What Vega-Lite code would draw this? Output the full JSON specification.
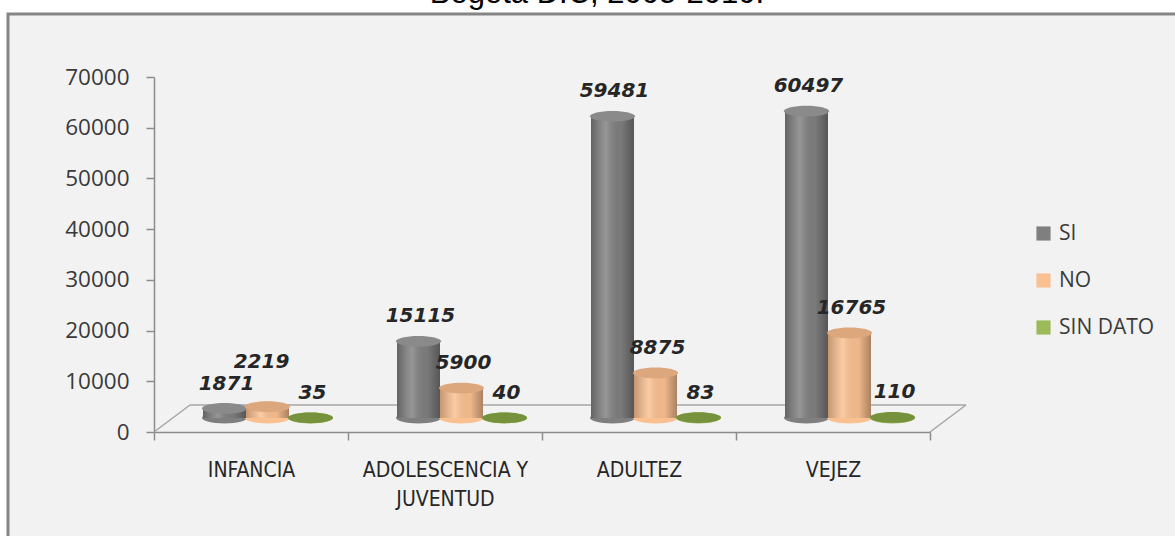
{
  "$schema": "https://vega.github.io/schema/vega-lite/v6.json",
  "width": 1170,
  "height": 525,
  "autosize": {"type": "none"},
  "padding": {"left": 8, "top": 14, "right": -3, "bottom": -3},
  "background": "white",
  "config": {"view": {"stroke": "#858585", "strokeWidth": 3, "fill": "#f2f2f2"}},
  "title": {"text": "Bogotá  D.C, 2005-2010.", "font": "Liberation Sans", "fontSize": 31, "fontWeight": "normal", "color": "#000000", "anchor": "middle", "baseline": "alphabetic", "offset": -20, "dx": 4},
  "data": {"values": [
    {"grupo": "INFANCIA", "serie": "SI", "valor": 1871},
    {"grupo": "INFANCIA", "serie": "NO", "valor": 2219},
    {"grupo": "INFANCIA", "serie": "SIN DATO", "valor": 35},
    {"grupo": "ADOLESCENCIA Y JUVENTUD", "serie": "SI", "valor": 15115},
    {"grupo": "ADOLESCENCIA Y JUVENTUD", "serie": "NO", "valor": 5900},
    {"grupo": "ADOLESCENCIA Y JUVENTUD", "serie": "SIN DATO", "valor": 40},
    {"grupo": "ADULTEZ", "serie": "SI", "valor": 59481},
    {"grupo": "ADULTEZ", "serie": "NO", "valor": 8875},
    {"grupo": "ADULTEZ", "serie": "SIN DATO", "valor": 83},
    {"grupo": "VEJEZ", "serie": "SI", "valor": 60497},
    {"grupo": "VEJEZ", "serie": "NO", "valor": 16765},
    {"grupo": "VEJEZ", "serie": "SIN DATO", "valor": 110}
  ]},
  "layer": [
    {
      "data": {"values": [{}]},
      "mark": {"type": "rule", "color": "#a6a6a6", "strokeWidth": 1.5, "xOffset": 36, "x2Offset": 36, "yOffset": -27, "y2Offset": -27},
      "encoding": {
        "x": {"datum": "INFANCIA", "type": "nominal", "bandPosition": 0,
          "scale": {"domain": ["INFANCIA", "ADOLESCENCIA Y JUVENTUD", "ADULTEZ", "VEJEZ"], "range": [146, 922], "paddingInner": 0, "paddingOuter": 0},
          "axis": {"orient": "bottom", "offset": -107, "title": null, "domainColor": "#8c8c8c", "domainWidth": 1.5, "tickColor": "#8c8c8c", "tickWidth": 1.5, "tickSize": 8, "tickBand": "extent", "labelFont": "'DejaVu Sans Condensed', 'Liberation Sans Narrow', Roboto, sans-serif", "labelFontSize": 21, "labelColor": "#262626", "labelPadding": 19, "labelLineHeight": 29, "labelAngle": 0, "labelBaseline": "top", "labelLimit": 0, "labelExpr": "datum.value == 'ADOLESCENCIA Y JUVENTUD' ? ['ADOLESCENCIA Y', 'JUVENTUD'] : datum.value"}},
        "x2": {"datum": "VEJEZ", "bandPosition": 1},
        "y": {"datum": 0, "type": "quantitative",
          "scale": {"domain": [0, 70000], "range": [418, 63], "nice": false, "zero": true},
          "axis": {"orient": "left", "offset": -146, "title": null, "values": [0, 10000, 20000, 30000, 40000, 50000, 60000, 70000], "format": "d", "grid": false, "domainColor": "#8c8c8c", "domainWidth": 1.5, "tickColor": "#8c8c8c", "tickWidth": 1.5, "tickSize": 8, "labelFont": "Open Sans", "labelFontSize": 22.5, "labelColor": "#3a3a3a", "labelPadding": 17}},
        "y2": {"datum": 0}
      }
    },
    {
      "data": {"values": [{}]},
      "mark": {"type": "rule", "color": "#a6a6a6", "strokeWidth": 1.5, "x2Offset": 36, "y2Offset": -27},
      "encoding": {
        "x": {"datum": "INFANCIA", "type": "nominal", "bandPosition": 0},
        "x2": {"datum": "INFANCIA", "bandPosition": 0},
        "y": {"datum": 0, "type": "quantitative"},
        "y2": {"datum": 0}
      }
    },
    {
      "data": {"values": [{}]},
      "mark": {"type": "rule", "color": "#a6a6a6", "strokeWidth": 1.5, "x2Offset": 36, "y2Offset": -27},
      "encoding": {
        "x": {"datum": "VEJEZ", "type": "nominal", "bandPosition": 1},
        "x2": {"datum": "VEJEZ", "bandPosition": 1},
        "y": {"datum": 0, "type": "quantitative"},
        "y2": {"datum": 0}
      }
    },
    {
      "mark": {"type": "point", "filled": true, "opacity": 1, "size": 2025, "strokeWidth": 0, "yOffset": -14, "shape": "M-1,0A1,0.24,0,1,0,1,0A1,0.24,0,1,0,-1,0Z"},
      "encoding": {
        "x": {"field": "grupo", "type": "nominal", "sort": null},
        "xOffset": {"field": "serie", "sort": ["SI", "NO", "SIN DATO"], "scale": {"range": [49, 178], "paddingInner": 0, "paddingOuter": 0}},
        "y": {"datum": 0, "type": "quantitative"},
        "color": {"field": "serie", "scale": {"domain": ["SI", "NO", "SIN DATO"], "range": ["#7f7f7f", "#fac090", "#9bbb59"]}, "legend": {"orient": "none", "legendX": 1025, "legendY": 209, "title": null, "symbolType": "square", "symbolSize": 200, "symbolStrokeWidth": 0, "labelFont": "Open Sans", "labelFontSize": 21, "labelColor": "#3a3a3a", "rowPadding": 25, "labelOffset": 5, "padding": 0}}
      }
    },
    {
      "mark": {"type": "bar", "yOffset": -14, "y2Offset": -14},
      "encoding": {
        "x": {"field": "grupo", "type": "nominal", "sort": null},
        "xOffset": {"field": "serie", "sort": ["SI", "NO", "SIN DATO"]},
        "y": {"field": "valor", "type": "quantitative"},
        "color": {"field": "serie"}
      }
    },
    {
      "mark": {"type": "bar", "yOffset": -14, "y2Offset": -14, "fill": {"x1": 0, "x2": 1, "y1": 0, "y2": 0, "gradient": "linear", "stops": [{"offset": 0, "color": "rgba(0,0,0,0.22)"}, {"offset": 0.35, "color": "rgba(255,255,255,0.18)"}, {"offset": 0.7, "color": "rgba(0,0,0,0.04)"}, {"offset": 1, "color": "rgba(0,0,0,0.32)"}]}},
      "encoding": {
        "x": {"field": "grupo", "type": "nominal", "sort": null},
        "xOffset": {"field": "serie", "sort": ["SI", "NO", "SIN DATO"]},
        "y": {"field": "valor", "type": "quantitative"}
      }
    },
    {
      "mark": {"type": "point", "filled": true, "opacity": 1, "size": 2025, "strokeWidth": 0, "yOffset": -14, "shape": "M-1,0A1,0.24,0,1,0,1,0A1,0.24,0,1,0,-1,0Z"},
      "encoding": {
        "x": {"field": "grupo", "type": "nominal", "sort": null},
        "xOffset": {"field": "serie", "sort": ["SI", "NO", "SIN DATO"]},
        "y": {"field": "valor", "type": "quantitative"},
        "fill": {"field": "serie", "scale": {"domain": ["SI", "NO", "SIN DATO"], "range": ["#8a8a8a", "#dca77c", "#76923c"]}, "legend": null}
      }
    },
    {
      "transform": [{"filter": "!(datum.grupo == 'INFANCIA' && datum.serie == 'NO')"}],
      "mark": {"type": "text", "font": "DejaVu Sans", "fontSize": 20, "fontWeight": "bold", "fontStyle": "italic", "color": "#262626", "dx": 2, "dy": -39, "baseline": "middle"},
      "encoding": {
        "x": {"field": "grupo", "type": "nominal", "sort": null},
        "xOffset": {"field": "serie", "sort": ["SI", "NO", "SIN DATO"]},
        "y": {"field": "valor", "type": "quantitative"},
        "text": {"field": "valor", "type": "quantitative", "format": "d"}
      }
    },
    {
      "transform": [{"filter": "datum.grupo == 'INFANCIA' && datum.serie == 'NO'"}],
      "mark": {"type": "text", "font": "DejaVu Sans", "fontSize": 20, "fontWeight": "bold", "fontStyle": "italic", "color": "#262626", "dx": -6, "dy": -59, "baseline": "middle"},
      "encoding": {
        "x": {"field": "grupo", "type": "nominal", "sort": null},
        "xOffset": {"field": "serie", "sort": ["SI", "NO", "SIN DATO"]},
        "y": {"field": "valor", "type": "quantitative"},
        "text": {"field": "valor", "type": "quantitative", "format": "d"}
      }
    }
  ]
}
